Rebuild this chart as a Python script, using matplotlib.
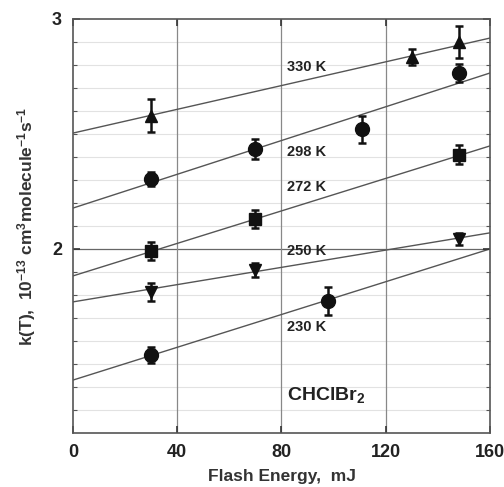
import matplotlib.pyplot as plt
import numpy as np

plt.rcParams['font.family'] = ['Liberation Sans', 'DejaVu Sans']
plt.rcParams['font.weight'] = 'bold'
plt.rcParams['mathtext.fontset'] = 'custom'
plt.rcParams['mathtext.bf'] = 'Liberation Sans:bold'
plt.rcParams['mathtext.rm'] = 'Liberation Sans:bold'
plt.rcParams['mathtext.default'] = 'bf'

# data
x330 = [30, 130, 148]
k330 = [2.58, 2.835, 2.90]
e330 = [0.07, 0.035, 0.07]
fit330 = [2.504, 2.917]

x298 = [30, 70, 111, 148]
k298 = [2.304, 2.435, 2.52, 2.765]
e298 = [0.03, 0.045, 0.06, 0.04]
fit298 = [2.178, 2.765]

x272 = [30, 70, 148]
k272 = [1.99, 2.13, 2.41]
e272 = [0.04, 0.04, 0.04]
fit272 = [1.883, 2.448]

x250 = [30, 70, 148]
k250 = [1.813, 1.909, 2.043]
e250 = [0.04, 0.03, 0.025]
fit250 = [1.77, 2.07]

x230 = [30, 98]
k230 = [1.539, 1.774]
e230 = [0.035, 0.06]
fit230 = [1.43, 2.0]

fit_x = [0, 160]

series = [
    (x330, k330, e330, fit330, '^', 8, '330 K', 2.79),
    (x298, k298, e298, fit298, 'o', 10, '298 K', 2.42),
    (x272, k272, e272, fit272, 's', 8.5, '272 K', 2.27),
    (x250, k250, e250, fit250, 'v', 8, '250 K', 1.99),
    (x230, k230, e230, fit230, 'o', 10, '230 K', 1.66),
]

fig = plt.figure(figsize=(5.04, 4.87), dpi=100)
ax = fig.add_axes([0.145, 0.111, 0.827, 0.850])

ax.set_xlim(0, 160)
ax.set_ylim(1.2, 3.0)

# grid
for yv in np.arange(1.3, 3.0, 0.1):
    if abs(yv - 2.0) < 1e-6:
        continue
    ax.axhline(yv, color='#e2e2e2', lw=0.8, zorder=0)
ax.axhline(2.0, color='#666666', lw=0.9, zorder=0)
for xv in [40, 80, 120]:
    ax.axvline(xv, color='#888888', lw=0.9, zorder=0)

for xs, ks, es, fit, m, ms, lab, ly in series:
    ax.plot(fit_x, fit, color='#555555', lw=1.0, zorder=1)
    ax.errorbar(xs, ks, yerr=es, fmt=m, color='#111111', ms=ms,
                ecolor='#111111', elinewidth=1.8, capsize=3, capthick=1.8, zorder=3)
    ax.text(82, ly, lab, fontsize=10.5, fontweight='bold', color='#222222',
            va='center', ha='left', zorder=2)

ax.text(82, 1.365, 'CHClBr$_2$', fontsize=14, fontweight='bold',
        color='#222222', va='center', ha='left')

ax.set_xticks([0, 40, 80, 120, 160])
ax.set_yticks([2, 3])
ax.set_yticks(np.arange(1.3, 3.0, 0.1), minor=True)
ax.tick_params(axis='both', direction='in', labelsize=13, colors='#333333',
               length=5, width=1.2, top=True, right=True, pad=8)
ax.tick_params(axis='y', which='minor', direction='in', length=3, width=0.8,
               left=True, right=True, colors='#555555')
for lbl in ax.get_xticklabels() + ax.get_yticklabels():
    lbl.set_fontweight('bold')
    lbl.set_color('#222222')

for sp in ax.spines.values():
    sp.set_color('#555555')
    sp.set_linewidth(1.2)

ax.set_xlabel('Flash Energy,  mJ', fontsize=12.5, fontweight='bold', color='#333333',
              labelpad=6)
ax.set_ylabel('k(T),  10$^{-13}$ cm$^3$molecule$^{-1}$s$^{-1}$',
              fontsize=12.5, fontweight='bold', color='#333333', labelpad=10)

fig.savefig('out.png', dpi=100)
